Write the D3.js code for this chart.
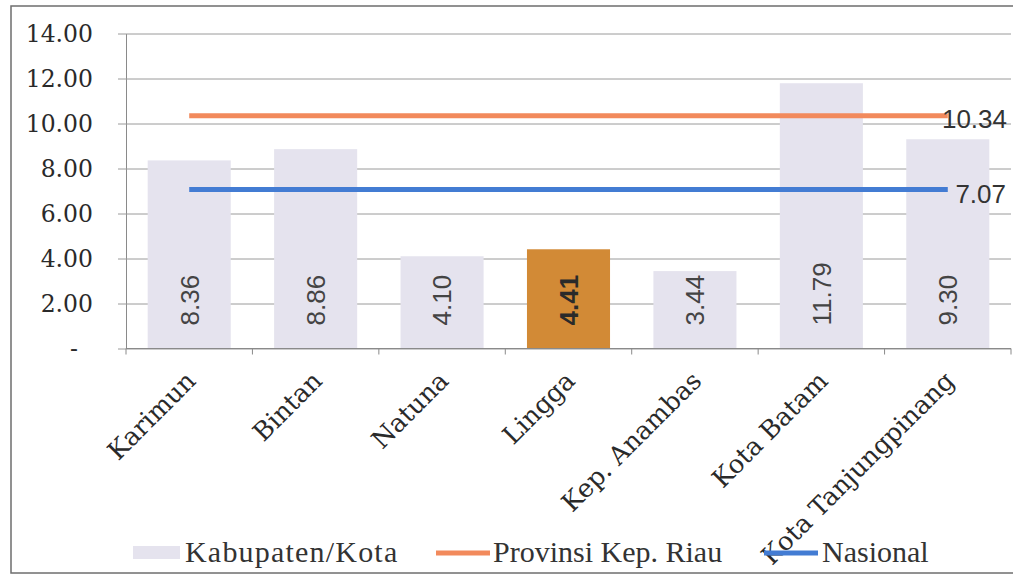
<!DOCTYPE html>
<html><head><meta charset="utf-8">
<script src="https://cdn.jsdelivr.net/npm/d3@7"></script>
<style>html,body{margin:0;padding:0;background:#fff;}svg{display:block;}</style>
</head><body>
<svg id="c" width="1013" height="575"></svg>
<script>
const categories = ["Karimun","Bintan","Natuna","Lingga","Kep. Anambas","Kota Batam","Kota Tanjungpinang"];
const kabupatenValues = [8.36, 8.86, 4.10, 4.41, 3.44, 11.79, 9.30];
const provinsiValue = [10.34, 10.34, 10.34, 10.34, 10.34, 10.34, 10.34];
const nasionalValue = [7.07, 7.07, 7.07, 7.07, 7.07, 7.07, 7.07];
const yTicks = [0, 2, 4, 6, 8, 10, 12, 14];
const yTickLabels = ["-", "2.00", "4.00", "6.00", "8.00", "10.00", "12.00", "14.00"];
const highlight = "Lingga";
const seriesNames = ["Kabupaten/Kota", "Provinsi Kep. Riau", "Nasional"];

(function () {
const svg = d3.select("#c");
const pL = 126, pR = 1011, pT = 33.5, pB = 348.5;

const x = d3.scaleBand().domain(categories).range([pL, pR]).paddingInner(0.343).paddingOuter(0.1715);
const y = d3.scaleLinear().domain([0, 14]).range([pB, pT]);

// chart border
svg.append("rect").attr("x", 11).attr("y", 6).attr("width", 1010).attr("height", 567)
  .attr("fill", "none").attr("stroke", "#6e6e6e").attr("stroke-width", 1.5);

// gridlines + y axis
const yAxis = d3.axisLeft(y).tickValues(yTicks).tickSize(-(pR - pL)).tickSizeOuter(0)
  .tickFormat((d, i) => yTickLabels[i]);
const gy = svg.append("g").attr("transform", `translate(${pL},0)`).call(yAxis);
gy.select(".domain").attr("stroke", "#8a8a8a");
gy.selectAll(".tick line").attr("stroke", "#9a9a9a").attr("stroke-width", 1).attr("x1", -8);
gy.selectAll(".tick text").attr("x", -33).attr("font-family", "DejaVu Serif").attr("font-size", 23.5)
  .attr("fill", "#2a2a2a").attr("dy", "0.36em");
gy.selectAll(".tick").filter(d => d === 0).select("text").attr("x", -48);

// bars
svg.append("g").selectAll("rect").data(categories).join("rect")
  .attr("x", d => x(d)).attr("width", x.bandwidth())
  .attr("y", (d, i) => y(kabupatenValues[i])).attr("height", (d, i) => y(0) - y(kabupatenValues[i]))
  .attr("fill", d => d === highlight ? "#d28a36" : "#e5e3ee");

// x axis
const step = x.step();
const gx = svg.append("g");
gx.append("line").attr("x1", pL).attr("x2", pR).attr("y1", pB).attr("y2", pB).attr("stroke", "#8a8a8a");
gx.selectAll("line.tk").data(d3.range(categories.length + 1)).join("line").attr("class", "tk")
  .attr("x1", i => pL + i * step).attr("x2", i => pL + i * step)
  .attr("y1", pB).attr("y2", pB + 6).attr("stroke", "#8a8a8a");
gx.selectAll("text").data(categories).join("text")
  .attr("transform", d => `translate(${x(d) + x.bandwidth() / 2 + 8},${pB + 34}) rotate(-45)`)
  .attr("text-anchor", "end").attr("font-family", "DejaVu Serif").attr("font-size", 25.5).attr("fill", "#2a2a2a")
  .text(d => d);

// bar labels
svg.append("g").selectAll("text").data(categories).join("text")
  .attr("transform", d => `translate(${x(d) + x.bandwidth() / 2},${pB - 23}) rotate(-90)`)
  .attr("dy", "0.36em").attr("font-family", "Liberation Sans, Arial, sans-serif").attr("font-size", 26)
  .attr("font-weight", d => d === highlight ? "bold" : "normal")
  .attr("fill", d => d === highlight ? "#2a2a2a" : "#444")
  .text((d, i) => kabupatenValues[i].toFixed(2));

// lines
const cx = d => x(d) + x.bandwidth() / 2;
const line = vals => d3.line().x((d) => cx(d)).y((d, i) => y(vals[i]))(categories);
svg.append("path").attr("d", line(provinsiValue)).attr("fill", "none").attr("stroke", "#f28a5c").attr("stroke-width", 5);
svg.append("path").attr("d", line(nasionalValue)).attr("fill", "none").attr("stroke", "#437cd3").attr("stroke-width", 5);

const last = categories.length - 1;
svg.append("text").attr("x", 1007).attr("y", y(provinsiValue[last]) + 3).attr("dy", "0.36em")
  .attr("text-anchor", "end").attr("font-family", "Liberation Sans, Arial, sans-serif").attr("font-size", 26).attr("fill", "#333")
  .text(provinsiValue[last].toFixed(2));
svg.append("text").attr("x", 1006).attr("y", y(nasionalValue[last]) + 4).attr("dy", "0.36em")
  .attr("text-anchor", "end").attr("font-family", "Liberation Sans, Arial, sans-serif").attr("font-size", 26).attr("fill", "#333")
  .text(nasionalValue[last].toFixed(2));

// legend
const lg = svg.append("g").attr("font-family", "Liberation Serif, serif").attr("font-size", 30).attr("fill", "#333");
lg.append("rect").attr("x", 133).attr("y", 546).attr("width", 47).attr("height", 13).attr("fill", "#e5e3ee");
lg.append("text").attr("x", 185).attr("y", 562).attr("letter-spacing", 1.2).text(seriesNames[0]);
lg.append("line").attr("x1", 436).attr("x2", 490).attr("y1", 553).attr("y2", 553).attr("stroke", "#f28a5c").attr("stroke-width", 5);
lg.append("text").attr("x", 493).attr("y", 562).text(seriesNames[1]);
lg.append("line").attr("x1", 764).attr("x2", 818).attr("y1", 553).attr("y2", 553).attr("stroke", "#437cd3").attr("stroke-width", 5);
lg.append("text").attr("x", 822).attr("y", 562).text(seriesNames[2]);
})();
</script>
</body></html>
